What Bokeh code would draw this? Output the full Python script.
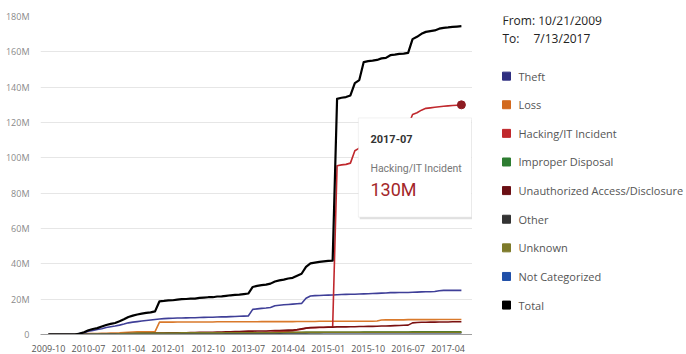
import pandas as pd
from bokeh.plotting import figure
from bokeh.layouts import row
from bokeh.models import Range1d, FixedTicker, BoxAnnotation, Label
from bokeh.core.properties import value
from bokeh.embed import file_html
from bokeh.resources import INLINE

# ---- data: cumulative records affected, millions, monthly 2009-10 .. 2017-07 ----
months = [per.strftime("%Y-%m") for per in pd.period_range("2009-10", "2017-07", freq="M")]

theft = [0, 0, 0, 0, 0, 0, 0, 0.5, 1.0, 1.8,
         2.3, 2.8, 3.3, 4.0, 4.4, 4.8, 5.3, 5.9, 6.6, 7.0,
         7.3, 7.6, 7.9, 8.2, 8.5, 8.8, 9.0, 9.1, 9.2, 9.3,
         9.3, 9.4, 9.5, 9.5, 9.6, 9.7, 9.8, 9.8, 9.9, 10.0,
         10.0, 10.1, 10.2, 10.3, 10.4, 10.5, 14.2, 14.5, 14.8, 15.0,
         15.3, 16.3, 16.6, 16.8, 17.0, 17.2, 17.4, 17.6, 20.5, 21.8,
         22.0, 22.1, 22.2, 22.3, 22.4, 22.5, 22.6, 22.7, 22.8, 22.8,
         22.9, 23.0, 23.1, 23.2, 23.3, 23.4, 23.5, 23.7, 23.7, 23.8,
         23.8, 23.8, 23.9, 24.0, 24.1, 24.2, 24.2, 24.3, 24.8, 25.0,
         25.0, 25.0, 25.0, 25.0]

loss = [0, 0, 0, 0, 0, 0, 0, 0, 0.3, 0.5,
        0.6, 0.6, 0.7, 0.7, 0.8, 0.8, 0.9, 1.1, 1.3, 1.4,
        1.5, 1.5, 1.5, 1.5, 1.6, 7.0, 7.0, 7.0, 7.0, 7.1,
        7.1, 7.1, 7.1, 7.1, 7.1, 7.1, 7.1, 7.1, 7.2, 7.2,
        7.2, 7.2, 7.2, 7.2, 7.2, 7.2, 7.2, 7.2, 7.3, 7.3,
        7.3, 7.3, 7.3, 7.3, 7.3, 7.3, 7.4, 7.4, 7.4, 7.4,
        7.4, 7.5, 7.5, 7.5, 7.5, 7.5, 7.5, 7.5, 7.5, 7.5,
        7.5, 7.5, 7.5, 7.5, 7.6, 8.2, 8.3, 8.3, 8.3, 8.3,
        8.3, 8.4, 8.4, 8.4, 8.4, 8.4, 8.4, 8.4, 8.5, 8.5,
        8.5, 8.5, 8.5, 8.5]

hacking = [0, 0, 0, 0, 0, 0, 0, 0, 0, 0,
           0, 0, 0.1, 0.1, 0.1, 0.2, 0.2, 0.3, 0.3, 0.4,
           0.4, 0.4, 0.5, 0.5, 0.5, 0.5, 0.5, 0.5, 0.5, 0.6,
           0.6, 0.6, 0.6, 0.6, 0.7, 0.7, 0.7, 0.7, 0.8, 0.8,
           0.8, 0.9, 0.9, 0.9, 1.0, 1.0, 1.0, 1.1, 1.1, 1.2,
           1.3, 1.4, 1.5, 1.6, 1.8, 2.0, 2.5, 3.0, 3.5, 3.8,
           3.9, 4.0, 4.0, 4.1, 4.1, 95.5, 96.0, 96.3, 97.0, 104.0,
           105.5, 115.5, 115.8, 116.0, 116.1, 116.2, 116.3, 117.5, 117.7, 117.9,
           118.0, 118.2, 124.5, 125.5, 127.0, 128.0, 128.3, 128.6, 128.9, 129.2,
           129.4, 129.6, 129.8, 130.0]

improper_disposal = [0, 0, 0, 0, 0, 0, 0, 0, 0, 0,
                     0, 0, 0.1, 0.1, 0.1, 0.1, 0.2, 0.2, 0.3, 0.3,
                     0.4, 0.4, 0.4, 0.4, 0.5, 0.5, 0.5, 0.5, 0.5, 0.5,
                     0.6, 0.6, 0.6, 0.6, 0.6, 0.7, 0.7, 0.7, 0.7, 0.7,
                     0.8, 0.8, 0.8, 0.8, 0.8, 0.9, 0.9, 0.9, 0.9, 0.9,
                     1.0, 1.0, 1.0, 1.0, 1.1, 1.1, 1.1, 1.1, 1.2, 1.2,
                     1.2, 1.2, 1.3, 1.3, 1.3, 1.3, 1.3, 1.3, 1.3, 1.3,
                     1.3, 1.4, 1.4, 1.4, 1.4, 1.4, 1.4, 1.4, 1.4, 1.4,
                     1.4, 1.4, 1.5, 1.5, 1.5, 1.5, 1.5, 1.5, 1.5, 1.5,
                     1.5, 1.5, 1.5, 1.5]

unauthorized = [0, 0, 0, 0, 0, 0, 0, 0, 0, 0,
                0, 0, 0.1, 0.1, 0.2, 0.2, 0.3, 0.4, 0.5, 0.6,
                0.6, 0.7, 0.7, 0.7, 0.8, 0.8, 0.8, 0.9, 0.9, 0.9,
                1.0, 1.0, 1.1, 1.1, 1.2, 1.2, 1.3, 1.3, 1.4, 1.4,
                1.5, 1.5, 1.6, 1.7, 1.8, 1.9, 1.9, 2.0, 2.0, 2.0,
                2.1, 2.2, 2.3, 2.4, 2.5, 2.5, 2.8, 3.2, 3.6, 3.9,
                4.0, 4.1, 4.1, 4.2, 4.2, 4.3, 4.3, 4.3, 4.4, 4.4,
                4.5, 4.5, 4.6, 4.6, 4.7, 4.8, 4.8, 4.9, 5.0, 5.1,
                5.2, 5.3, 6.6, 6.8, 6.9, 6.9, 7.0, 7.0, 7.1, 7.1,
                7.1, 7.2, 7.2, 7.2]

other = [0, 0, 0, 0, 0, 0, 0, 0, 0, 0,
         0, 0, 0, 0.1, 0.1, 0.1, 0.2, 0.2, 0.3, 0.3,
         0.3, 0.4, 0.4, 0.4, 0.4, 0.4, 0.4, 0.5, 0.5, 0.5,
         0.5, 0.5, 0.5, 0.5, 0.6, 0.6, 0.6, 0.6, 0.6, 0.6,
         0.6, 0.7, 0.7, 0.7, 0.7, 0.7, 0.7, 0.8, 0.8, 0.8,
         0.8, 0.8, 0.8, 0.9, 0.9, 0.9, 0.9, 0.9, 0.9, 1.0,
         1.0, 1.0, 1.0, 1.0, 1.0, 1.0, 1.0, 1.0, 1.0, 1.0,
         1.0, 1.0, 1.0, 1.0, 1.0, 1.0, 1.0, 1.0, 1.0, 1.0,
         1.0, 1.0, 1.0, 1.0, 1.0, 1.0, 1.0, 1.0, 1.0, 1.0,
         1.0, 1.0, 1.0, 1.0]

unknown = [0, 0, 0, 0, 0, 0, 0, 0, 0, 0.1,
           0.2, 0.2, 0.2, 0.3, 0.3, 0.3, 0.4, 0.5, 0.6, 0.7,
           0.8, 0.8, 0.8, 0.8, 0.8, 0.8, 0.8, 0.8, 0.8, 0.8,
           0.9, 0.9, 0.9, 0.9, 0.9, 0.9, 0.9, 0.9, 0.9, 0.9,
           1.0, 1.0, 1.0, 1.0, 1.0, 1.0, 1.0, 1.0, 1.0, 1.0,
           1.0, 1.0, 1.1, 1.1, 1.1, 1.1, 1.2, 1.2, 1.2, 1.2,
           1.2, 1.2, 1.3, 1.3, 1.3, 1.3, 1.3, 1.3, 1.3, 1.3,
           1.3, 1.3, 1.3, 1.3, 1.3, 1.3, 1.3, 1.3, 1.3, 1.3,
           1.3, 1.3, 1.3, 1.3, 1.3, 1.3, 1.3, 1.3, 1.3, 1.3,
           1.3, 1.3, 1.3, 1.3]

not_categorized = [0.0] * 94

series_names = ["Theft", "Loss", "Hacking/IT Incident", "Improper Disposal",
                "Unauthorized Access/Disclosure", "Other", "Unknown",
                "Not Categorized", "Total"]
category_values = [theft, loss, hacking, improper_disposal, unauthorized,
                   other, unknown, not_categorized]
total = [round(sum(vals), 2) for vals in zip(*category_values)]

line_colors = ["#3f3f98", "#d9792b", "#c0282d", "#2e7d32", "#7a1010",
               "#3a3a3a", "#7f7a20", "#2255aa", "#000000"]
swatch_colors = ["#2e2e80", "#d2691e", "#c0282d", "#2e7d32", "#6b0f14",
                 "#333333", "#7d7a2a", "#1f4fa8", "#000000"]

y_ticks = [0, 20, 40, 60, 80, 100, 120, 140, 160, 180]
y_tick_labels = ["0", "20M", "40M", "60M", "80M", "100M", "120M", "140M", "160M", "180M"]

date_from = "10/21/2009"
date_to = "7/13/2017"

FONT = "Open Sans"
TOP, BOTTOM = 16, 18          # shared top/bottom borders of both panels
HEIGHT = 354

# ---- main line chart ----
x = list(range(len(months)))
p = figure(width=472, height=HEIGHT, output_backend="svg", toolbar_location=None,
           x_range=Range1d(-1.8, 95.5), y_range=Range1d(0, 180),
           min_border_left=40, min_border_right=0,
           min_border_top=TOP, min_border_bottom=BOTTOM)
p.outline_line_color = None
p.background_fill_color = "white"
p.border_fill_color = "white"

x_tick_idx = list(range(0, len(months), 9))
p.xaxis.ticker = FixedTicker(ticks=x_tick_idx)
p.xaxis.major_label_overrides = {i: months[i] for i in x_tick_idx}
p.xaxis.major_tick_line_color = None
p.xaxis.minor_tick_line_color = None
p.xaxis.axis_line_color = "#9e9e9e"
p.xaxis.major_label_standoff = 4
p.xaxis.major_label_text_font = FONT
p.xaxis.major_label_text_font_size = "9px"
p.xaxis.major_label_text_color = "#555555"

p.yaxis.ticker = FixedTicker(ticks=y_ticks)
p.yaxis.major_label_overrides = dict(zip(y_ticks, y_tick_labels))
p.yaxis.major_tick_line_color = None
p.yaxis.minor_tick_line_color = None
p.yaxis.axis_line_color = None
p.yaxis.major_label_standoff = 5
p.yaxis.major_label_text_font = FONT
p.yaxis.major_label_text_font_size = "9px"
p.yaxis.major_label_text_color = "#8a8a8a"

p.xgrid.grid_line_color = None
p.ygrid.grid_line_color = "#e6e6e6"

for vals, color in zip(category_values, line_colors[:-1]):
    p.line(x, vals, line_color=color, line_width=1.6, line_join="round")
p.line(x, total, line_color=line_colors[-1], line_width=2.2, line_join="round")

# highlighted point of the hovered series
p.scatter([x[-1]], [hacking[-1]], size=8, color="#8e1b22")

# tooltip card
card_left, card_right, card_top, card_bottom = 69.8, 95.3, 122.6, 66.4
p.add_layout(BoxAnnotation(left=card_left + 0.3, right=card_right + 0.4,
                           top=card_top - 1.0, bottom=card_bottom - 1.2,
                           fill_color="#000000", fill_alpha=0.12, line_color=None))
p.add_layout(BoxAnnotation(left=card_left, right=card_right, top=card_top, bottom=card_bottom,
                           fill_color="white", fill_alpha=1.0,
                           line_color="#d0d0d0", line_width=1))
p.add_layout(Label(x=card_left, y=card_top, x_offset=12, y_offset=-21, text=months[-1],
                   text_font="Roboto", text_font_style="bold", text_font_size="11px",
                   text_baseline="middle", text_color="#333333"))
p.add_layout(Label(x=card_left, y=card_top, x_offset=12, y_offset=-51, text=series_names[2],
                   text_font="Roboto", text_font_size="10.5px",
                   text_baseline="middle", text_color="#777777"))
p.add_layout(Label(x=card_left, y=card_top, x_offset=12, y_offset=-72,
                   text=f"{hacking[-1]:.0f}M",
                   text_font="Roboto", text_font_size="18px",
                   text_baseline="middle", text_color="#a3262a"))

# ---- legend panel: data units equal page pixels inside its frame ----
q = figure(width=214, height=HEIGHT, output_backend="svg", toolbar_location=None,
           x_range=Range1d(472, 686), y_range=Range1d(HEIGHT - BOTTOM, TOP),
           x_axis_type=None, y_axis_type=None,
           min_border_left=0, min_border_right=0,
           min_border_top=TOP, min_border_bottom=BOTTOM)
q.outline_line_color = None
q.grid.visible = False

for tx, ty, txt in [(502, 20, f"From: {date_from}"), (502, 38, "To:"), (533, 38, date_to)]:
    q.add_layout(Label(x=tx, y=ty, text=txt, text_font=FONT, text_font_size="12px",
                       text_baseline="middle", text_color="#222222"))

item_y = [76 + i * 28.8 for i in range(len(series_names))]
q.scatter(x=[506] * len(series_names), y=item_y, marker="square", size=8,
          fill_color=swatch_colors, line_color=swatch_colors)
q.text(x=[518] * len(series_names), y=item_y, text=series_names,
       text_font=value(FONT), text_font_size="11px", text_baseline="middle",
       text_color="#555555")

layout = row(p, q)
open("out.html", "w").write(file_html(layout, INLINE))
